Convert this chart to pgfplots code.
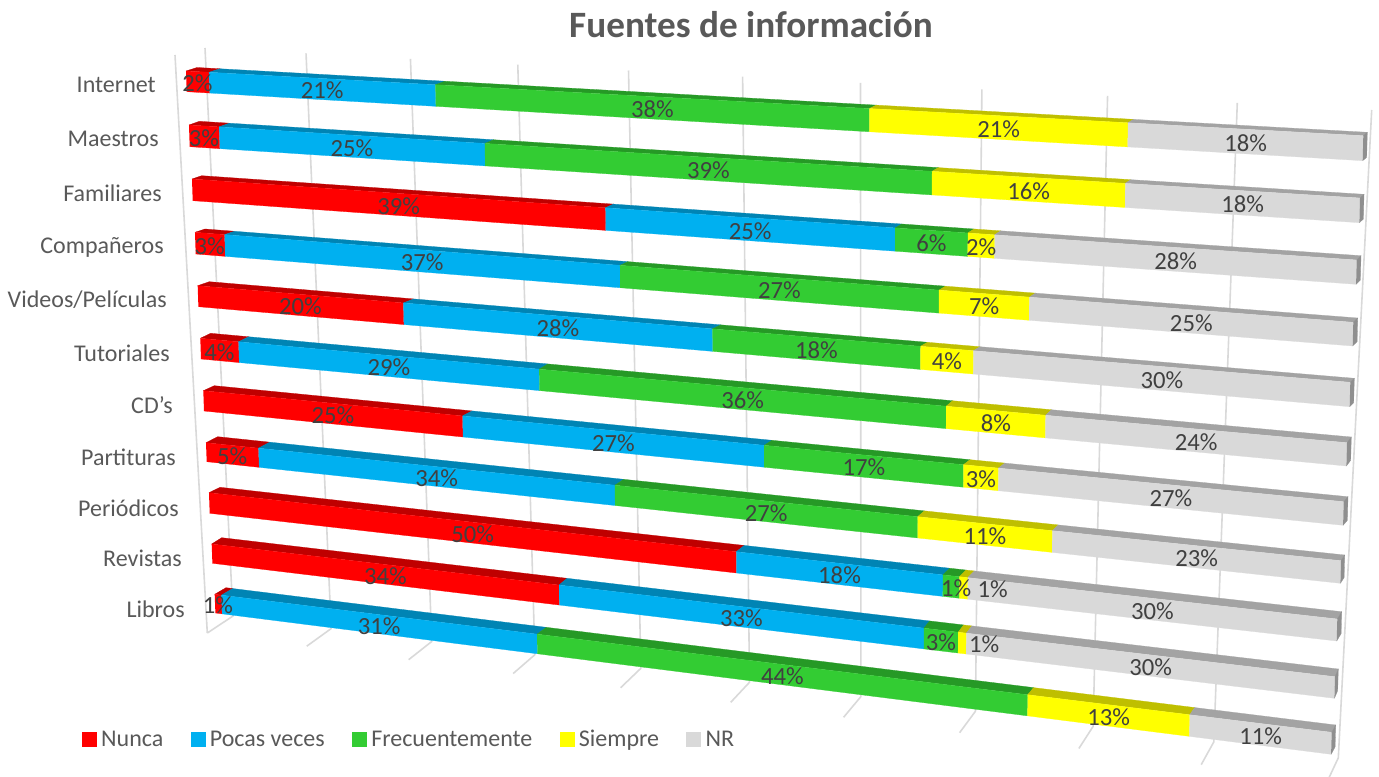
\documentclass[border=0pt]{standalone}
\usepackage{pgfplots}
\pgfplotsset{compat=1.18}
\usepackage{pgfplotstable}
\usepackage{fontspec}
\setmainfont{Carlito}
\definecolor{cN}{HTML}{FF0000}\definecolor{tN}{HTML}{BF0000}
\definecolor{cP}{HTML}{00B0F0}\definecolor{tP}{HTML}{0084B4}
\definecolor{cF}{HTML}{33CC33}\definecolor{tF}{HTML}{269926}
\definecolor{cS}{HTML}{FFFF00}\definecolor{tS}{HTML}{BFBF00}
\definecolor{cR}{HTML}{D9D9D9}\definecolor{tR}{HTML}{A3A3A3}
\definecolor{capR}{HTML}{8F8F8F}
\definecolor{gridc}{HTML}{D9D9D9}
\definecolor{labc}{HTML}{404040}
\definecolor{txtc}{HTML}{595959}
\tikzset{
  lab/.style={font=\fontsize{18.5}{20}\selectfont,text=labc,inner sep=0pt},
  cat/.style={font=\fontsize{18}{20}\selectfont,text=txtc,inner sep=0pt,anchor=east},
}
% percentages per source, then the perspective geometry of each bar
\pgfplotstableread{
N P F S R a xa ya yab bxa bya xb yb ybb bxb byb dxF dxS
2.2 21.1 37.7 20.9 18.1 1.13 186 71 91.7 197 67.5 1363.3 135.7 160.7 1367.3 132.3 0 0
2.9 24.8 38.6 15.6 18.1 1.1335 189 125 146.7 199.3 121.3 1360 198 222.7 1364 194.3 0 0
38.5 24.9 6.0 2.2 28.4 1.137 192 179 200.7 201.7 175.7 1356.7 260 284.3 1361 255.7 0 0
2.9 36.9 27.4 7.4 25.4 1.1405 195 232.3 254 205 229 1353.3 322.3 346 1357.7 318 0 0
19.9 28.1 17.8 4.4 29.8 1.144 197.7 285.7 306.7 209.3 281.7 1350.3 382.3 406.7 1354.3 378.3 0 0
3.8 28.7 35.6 8.2 23.7 1.1475 200.3 338.3 359 210.7 333.3 1347 442.7 466 1351.3 437 0 0
25.3 27.4 17.0 2.9 27.4 1.151 203.3 390.7 411 214.3 385.7 1343.7 501.7 525.3 1348 496.7 0 0
5.3 34.1 26.6 11.2 22.8 1.1545 206 442.7 461.7 217.7 436.7 1341 560.7 583.3 1344.7 555 0 0
50.4 17.9 1.4 0.7 29.6 1.158 209 492.7 513.3 220 487.3 1337.3 619 641 1341.7 611.7 5 29
34.2 32.6 2.9 0.7 29.6 1.1615 211.7 544 563.3 221.7 537.7 1335 676.7 698.3 1338.3 669 0 22
0.7 31.4 43.6 13.2 11.1 1.165 214.7 594.3 613 226 587.7 1331.7 732.3 754.3 1335.7 725 0 0
}\rows
\newif\iflabelpass
\newcommand\getv[3]{\pgfplotstablegetelem{#1}{#2}\of\rows\let#3\pgfplotsretval}
\newcommand\fillquad[2]{\edef\tmp{\noexpand\addplot[forget plot,fill=#1,draw=#1,line width=.2pt] coordinates {#2};}\tmp}
\newcommand\gridln[1]{\edef\tmp{\noexpand\addplot[forget plot,draw=gridc,line width=1.2pt,line join=bevel] coordinates {#1};}\tmp}
% #1 share at which the cut lies, -> \fres fraction of the drawn length
\newcommand\persp[2]{\pgfmathsetmacro\fres{(#1/100)/((#1/100)+#2*(1-#1/100))}}
% #1 start, #2 value, #3 face colour, #4 top colour, #5 label shift
\newcommand\seg[5]{%
  \pgfmathsetmacro\tend{#1+#2}%
  \persp{#1}{\a}\let\fa\fres
  \persp{\tend}{\a}\let\fb\fres
  \pgfmathsetmacro\Xa{\xa+\fa*(\xb-\xa)}%
  \pgfmathsetmacro\Xb{\xa+\fb*(\xb-\xa)}%
  \pgfmathsetmacro\Ya{\ya+\fa*(\yb-\ya)}%
  \pgfmathsetmacro\Yb{\ya+\fb*(\yb-\ya)}%
  \pgfmathsetmacro\Za{\yab+\fa*(\ybb-\yab)}%
  \pgfmathsetmacro\Zb{\yab+\fb*(\ybb-\yab)}%
  \iflabelpass
    \pgfmathsetmacro\lx{(\Xa+\Xb)/2+#5}%
    \pgfmathsetmacro\ly{(\Ya+\Yb+\Za+\Zb)/4+1.5}%
    \pgfmathtruncatemacro\lv{round(#2)}%
    \edef\tmp{\noexpand\node[lab] at (axis cs:\lx,\ly) {\lv\noexpand\%};}\tmp
  \else
    \pgfmathsetmacro\Ua{\bxa+\fa*(\bxb-\bxa)}%
    \pgfmathsetmacro\Ub{\bxa+\fb*(\bxb-\bxa)}%
    \pgfmathsetmacro\Va{\bya+\fa*(\byb-\bya)}%
    \pgfmathsetmacro\Vb{\bya+\fb*(\byb-\bya)}%
    \pgfmathsetmacro\Xc{\Xa+.7-1.3*\fa}%
    \pgfmathsetmacro\Xd{\Xb+.7-1.3*\fb}%
    \fillquad{#4}{(\Xa,\Ya)(\Ua,\Va)(\Ub,\Vb)(\Xb,\Yb)}%
    \fillquad{#3}{(\Xa,\Ya)(\Xb,\Yb)(\Xd,\Zb)(\Xc,\Za)}%
  \fi
}
\newcommand\drawrow[1]{%
  \getv{#1}{N}\vN\getv{#1}{P}\vP\getv{#1}{F}\vF\getv{#1}{S}\vS\getv{#1}{R}\vR
  \getv{#1}{a}\a\getv{#1}{xa}\xa\getv{#1}{ya}\ya\getv{#1}{yab}\yab
  \getv{#1}{bxa}\bxa\getv{#1}{bya}\bya\getv{#1}{xb}\xb\getv{#1}{yb}\yb
  \getv{#1}{ybb}\ybb\getv{#1}{bxb}\bxb\getv{#1}{byb}\byb
  \getv{#1}{dxF}\dxF\getv{#1}{dxS}\dxS
  \pgfmathsetmacro\cA{\vN}\pgfmathsetmacro\cB{\cA+\vP}%
  \pgfmathsetmacro\cC{\cB+\vF}\pgfmathsetmacro\cD{\cC+\vS}%
  \seg{0}{\vN}{cN}{tN}{0}%
  \seg{\cA}{\vP}{cP}{tP}{0}%
  \seg{\cB}{\vF}{cF}{tF}{\dxF}%
  \seg{\cC}{\vS}{cS}{tS}{\dxS}%
  \seg{\cD}{\vR}{cR}{tR}{0}%
  \iflabelpass\else
    \pgfmathsetmacro\xe{\xb-.6}\pgfmathsetmacro\bxe{\bxb-.6}%
    \pgfmathsetmacro\bye{\byb+\ybb-\yb}%
    \fillquad{capR}{(\xb,\yb)(\bxb,\byb)(\bxe,\bye)(\xe,\ybb)}%
  \fi
}
\newcommand\gridat[1]{%
  \persp{#1}{1.17}\let\ft\fres
  \persp{#1}{1.14}\let\fg\fres
  \pgfmathsetmacro\gxa{205+\ft*1166.7}\pgfmathsetmacro\gya{48+\ft*62}%
  \pgfmathsetmacro\gxb{233+\fg*1105.3}\pgfmathsetmacro\gyb{616+.1283*(\gxb-233)}%
  \pgfmathsetmacro\gxc{207.3+\fg*1120}\pgfmathsetmacro\gyc{633+.1325*(\gxc-207.3)}%
  \gridln{(\gxa,\gya)(\gxb,\gyb)(\gxc,\gyc)}%
}
\begin{document}
\begin{tikzpicture}
\begin{axis}[
  width=1034.25pt,height=582.75pt,scale only axis,
  xmin=0,xmax=1379,ymin=0,ymax=777,y dir=reverse,
  hide axis,clip=true,
  legend image code/.code={\fill[#1] (0pt,0pt) rectangle (10.5pt,10.5pt);},
  legend style={at={(axis cs:82,739)},anchor=west,draw=none,fill=none,inner sep=0pt,outer sep=0pt,
    legend columns=5,font=\fontsize{18}{20}\selectfont,text=txtc,
    /tikz/every even column/.append style={column sep=17pt},
    cells={anchor=base west},
    nodes={inner xsep=3.5pt,inner ysep=0pt}},
]
\path (axis cs:0,0) rectangle (axis cs:1379,777);
\gridln{(175,55)(207.3,633)}
\gridat{0}\gridat{10}\gridat{20}\gridat{30}\gridat{40}\gridat{50}
\gridat{60}\gridat{70}\gridat{80}\gridat{90}\gridat{100}
\labelpassfalse
\drawrow{0}\drawrow{1}\drawrow{2}\drawrow{3}\drawrow{4}\drawrow{5}
\drawrow{6}\drawrow{7}\drawrow{8}\drawrow{9}\drawrow{10}
\addlegendimage{cN}\addlegendentry{Nunca}
\addlegendimage{cP}\addlegendentry{Pocas veces}
\addlegendimage{cF}\addlegendentry{Frecuentemente}
\addlegendimage{cS}\addlegendentry{Siempre}
\addlegendimage{cR}\addlegendentry{NR}
\labelpasstrue
\drawrow{0}\drawrow{1}\drawrow{2}\drawrow{3}\drawrow{4}\drawrow{5}
\drawrow{6}\drawrow{7}\drawrow{8}\drawrow{9}\drawrow{10}
\node[font=\fontsize{27.9}{32}\bfseries\selectfont,text=txtc,inner sep=0pt] at (axis cs:751,25) {Fuentes de información};
\node[cat] at (axis cs:156,85) {Internet};
\node[cat] at (axis cs:159,139) {Maestros};
\node[cat] at (axis cs:162,193) {Familiares};
\node[cat] at (axis cs:164,247) {Compañeros};
\node[cat] at (axis cs:167,300) {Videos/Películas};
\node[cat] at (axis cs:170,353) {Tutoriales};
\node[cat] at (axis cs:173,405) {CD\symbol{39}s};
\node[cat] at (axis cs:176,457) {Partituras};
\node[cat] at (axis cs:179,508) {Periódicos};
\node[cat] at (axis cs:182,558) {Revistas};
\node[cat] at (axis cs:185,609) {Libros};
\end{axis}
\end{tikzpicture}
\end{document}
